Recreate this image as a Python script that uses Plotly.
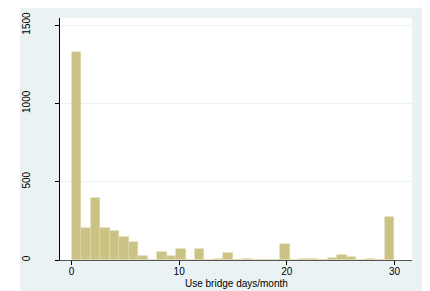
import plotly.graph_objects as go

# Histogram of "Use bridge days/month": 34 equal-width bins spanning 0..30
bin_start = 0.0
bin_end = 30.0
bin_counts = [1325, 206, 397, 206, 186, 146, 114, 24, 0, 48,
              25, 71, 0, 71, 0, 8, 46, 0, 6, 0,
              3, 0, 99, 0, 5, 7, 0, 14, 29, 22,
              0, 6, 0, 274]
x_ticks = [0, 10, 20, 30]
y_ticks = [0, 500, 1000, 1500]
x_title = "Use bridge days/month"

n_bins = len(bin_counts)
bw = (bin_end - bin_start) / n_bins
centers = [bin_start + (i + 0.5) * bw for i in range(n_bins)]

W, H = 430, 291
ML, MR, MT, MB = 60, 18, 18, 31
pw = W - ML - MR
ph = H - MT - MB

fig = go.Figure()
fig.add_trace(go.Bar(
    x=centers, y=bin_counts, width=bw,
    marker=dict(color="rgb(203,195,131)",
                line=dict(color="rgb(222,216,172)", width=0.6)),
    hoverinfo="skip",
))

def px_x(p):
    return (p - ML) / pw

def px_y(p):
    return 1 - (p - MT) / ph

white = "#ffffff"
shapes = [
    dict(type="rect", xref="paper", yref="paper", x0=px_x(-2), x1=px_x(20),
         y0=px_y(H + 2), y1=px_y(-2), fillcolor=white, line=dict(width=0), layer="below"),
    dict(type="rect", xref="paper", yref="paper", x0=px_x(-2), x1=px_x(W + 2),
         y0=px_y(8), y1=px_y(-2), fillcolor=white, line=dict(width=0), layer="below"),
    dict(type="rect", xref="paper", yref="paper", x0=px_x(422), x1=px_x(W + 2),
         y0=px_y(H + 2), y1=px_y(-2), fillcolor=white, line=dict(width=0), layer="below"),
]

font_fam = "Liberation Sans, Arial, sans-serif"
fig.update_layout(
    width=W, height=H,
    margin=dict(l=ML, r=MR, t=MT, b=MB, pad=0, autoexpand=False),
    paper_bgcolor="#eaf2f3",
    plot_bgcolor="#ffffff",
    showlegend=False,
    bargap=0,
    shapes=shapes,
    font=dict(family=font_fam, size=10, color="#000000"),
    annotations=[dict(text=x_title, xref="paper", yref="paper", x=0.5, y=px_y(283),
                      xanchor="center", yanchor="middle", showarrow=False,
                      font=dict(size=10, family=font_fam, color="#000000"))],
    xaxis=dict(
        range=[-1.07, 31.63], tickvals=x_ticks, ticktext=[str(v) for v in x_ticks],
        showgrid=False, zeroline=False, automargin=False,
        showline=True, linecolor="#555555", linewidth=1,
        ticks="outside", ticklen=4, tickcolor="#000000", tickwidth=1,
        ticklabelstandoff=-2,
        tickfont=dict(size=10, family=font_fam, color="#000000"),
    ),
    yaxis=dict(
        range=[0, 1545], tickvals=y_ticks, ticktext=[str(v) for v in y_ticks],
        showgrid=True, gridcolor="#eaf2f3", gridwidth=1, zeroline=False, automargin=False,
        showline=True, linecolor="#000000", linewidth=1,
        ticks="outside", ticklen=4, tickcolor="#000000", tickwidth=1,
        tickangle=-90, ticklabelstandoff=21,
        tickfont=dict(size=10, family=font_fam, color="#000000"),
    ),
)

fig.write_html(
    "out.html",
    config={"displayModeBar": False},
    post_script="document.body.style.margin='0';document.body.style.overflow='hidden';",
)
